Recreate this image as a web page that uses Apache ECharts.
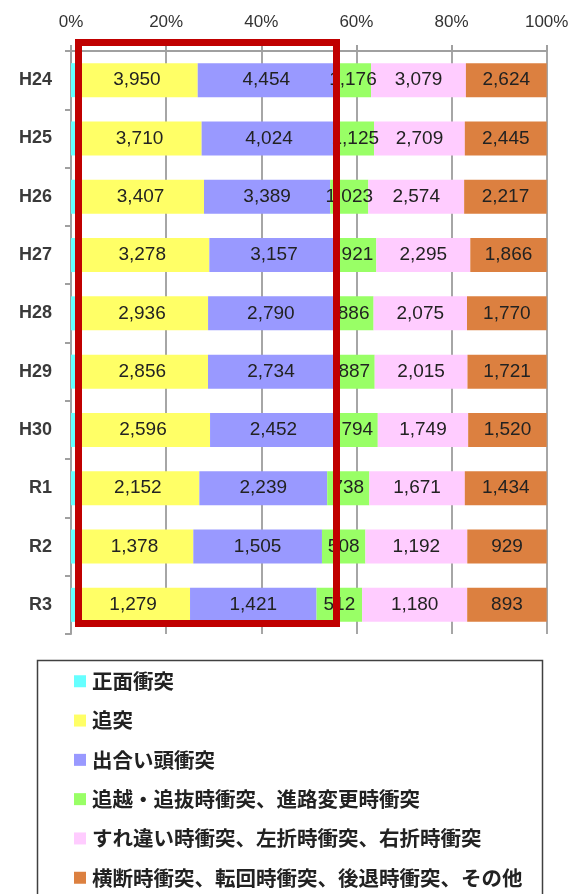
<!DOCTYPE html>
<html>
<head>
<meta charset="utf-8">
<script src="https://cdn.jsdelivr.net/npm/echarts@6/dist/echarts.min.js"></script>
<style>
  html, body { margin: 0; padding: 0; background: #fff; }
  #chart { width: 575px; height: 894px; }
</style>
</head>
<body>
<div id="chart"></div>
<script>
// Years (top to bottom)
const categories = ['H24', 'H25', 'H26', 'H27', 'H28', 'H29', 'H30', 'R1', 'R2', 'R3'];

// Accident counts by type
const headOn      = [165, 190, 165, 100, 108, 120, 95, 95, 53, 58];
const rearEnd     = [3950, 3710, 3407, 3278, 2936, 2856, 2596, 2152, 1378, 1279];
const crossing    = [4454, 4024, 3389, 3157, 2790, 2734, 2452, 2239, 1505, 1421];
const overtaking  = [1176, 1125, 1023, 921, 886, 887, 794, 738, 508, 512];
const passingTurn = [3079, 2709, 2574, 2295, 2075, 2015, 1749, 1671, 1192, 1180];
const otherTypes  = [2624, 2445, 2217, 1866, 1770, 1721, 1520, 1434, 929, 893];

const seriesNames = [
  '正面衝突',
  '追突',
  '出合い頭衝突',
  '追越・追抜時衝突、進路変更時衝突',
  'すれ違い時衝突、左折時衝突、右折時衝突',
  '横断時衝突、転回時衝突、後退時衝突、その他'
];
const seriesColors = ['#66ffff', '#ffff66', '#9999ff', '#99ff66', '#ffccff', '#dc8040'];
const xTicks = [0, 20, 40, 60, 80, 100];

const rawSeries = [headOn, rearEnd, crossing, overtaking, passingTurn, otherTypes];
const totals = categories.map((_, i) => rawSeries.reduce((s, arr) => s + arr[i], 0));

const fmt = v => v.toLocaleString('en-US');

const series = rawSeries.map((arr, si) => ({
  name: seriesNames[si],
  type: 'bar',
  stack: 'share',
  barWidth: 34,
  itemStyle: { color: seriesColors[si] },
  label: {
    show: si > 0,
    position: 'inside',
    color: '#222',
    fontSize: 19,
    fontFamily: 'Liberation Sans, Arial, sans-serif',
    formatter: p => fmt(arr[p.dataIndex])
  },
  emphasis: { disabled: true },
  data: arr.map((v, i) => (v / totals[i]) * 100)
}));

const chart = echarts.init(document.getElementById('chart'), null, { renderer: 'canvas' });
chart.setOption({
  animation: false,
  backgroundColor: '#fff',
  grid: { left: 71, right: 28.3, top: 51, height: 583, containLabel: false },
  xAxis: {
    type: 'value',
    position: 'top',
    min: 0,
    max: 100,
    interval: 20,
    axisLine: { show: true, lineStyle: { color: '#a0a0a0', width: 2 } },
    axisTick: { show: true, length: 6, lineStyle: { color: '#a0a0a0', width: 2 } },
    splitLine: { show: true, lineStyle: { color: '#a6a6a6', width: 2 } },
    axisLabel: {
      margin: 20,
      fontSize: 17,
      color: '#333',
      fontFamily: 'Liberation Sans, Arial, sans-serif',
      formatter: v => (xTicks.includes(v) ? v + '%' : '')
    }
  },
  yAxis: {
    type: 'category',
    inverse: true,
    data: categories,
    axisLine: { show: true, lineStyle: { color: '#a0a0a0', width: 2 } },
    axisTick: { show: true, length: 6, lineStyle: { color: '#a0a0a0', width: 2 } },
    axisLabel: {
      margin: 19,
      fontSize: 18,
      fontWeight: 'bold',
      color: '#3a3a3a',
      fontFamily: 'Liberation Sans, Arial, sans-serif'
    }
  },
  legend: {
    orient: 'vertical',
    left: 74,
    top: 671,
    padding: 0,
    itemWidth: 12,
    itemHeight: 12,
    itemGap: 18.8,
    icon: 'rect',
    selectedMode: false,
    data: seriesNames,
    textStyle: {
      fontSize: 20.5,
      lineHeight: 20.5,
      fontWeight: 'bold',
      color: '#222',
      fontFamily: 'Noto Sans CJK JP',
      padding: [0, 0, 0, 1]
    }
  },
  graphic: [
    {
      // legend frame
      type: 'rect',
      z: 0,
      shape: { x: 37.5, y: 660.5, width: 505, height: 260 },
      style: { fill: 'none', stroke: '#404040', lineWidth: 1.5 }
    },
    {
      // highlight frame around the rear-end and crossing columns
      type: 'rect',
      z: 100,
      shape: { x: 78.5, y: 42.5, width: 258, height: 581 },
      style: { fill: 'none', stroke: '#c00000', lineWidth: 7 }
    }
  ],
  series
});
</script>
</body>
</html>
